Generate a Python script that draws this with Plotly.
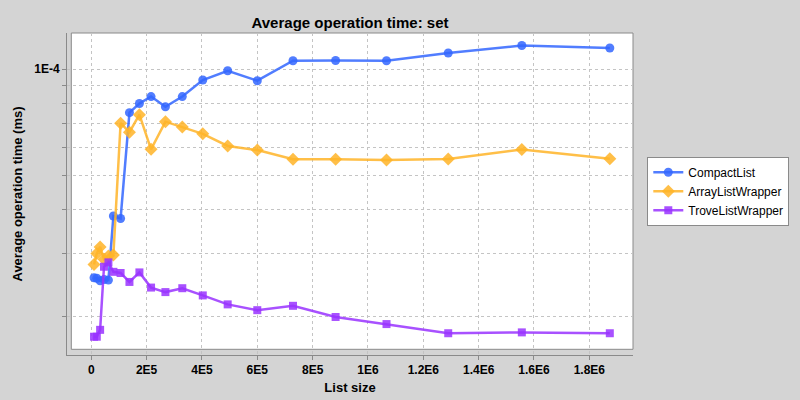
import plotly.graph_objects as go

# ---- data ----
list_size = [10000, 20000, 32000, 46000, 62000, 80000, 106000, 138000, 174000, 216000,
             268000, 329000, 403000, 493000, 600000, 729000, 883000, 1067000, 1290000,
             1556000, 1874000]

compact_list = [2.57e-5, 2.56e-5, 2.52e-5, 2.54e-5, 2.53e-5, 3.84e-5, 3.78e-5, 7.53e-5,
                7.99e-5, 8.36e-5, 7.82e-5, 8.36e-5, 9.31e-5, 9.89e-5, 9.27e-5, 1.056e-4,
                1.057e-4, 1.056e-4, 1.11e-4, 1.166e-4, 1.147e-4]

array_list_wrapper = [2.80e-5, 3.01e-5, 3.14e-5, 2.90e-5, 2.96e-5, 2.98e-5, 7.03e-5, 6.63e-5,
                      7.43e-5, 5.93e-5, 7.10e-5, 6.86e-5, 6.56e-5, 6.06e-5, 5.90e-5, 5.56e-5,
                      5.56e-5, 5.53e-5, 5.57e-5, 5.92e-5, 5.58e-5]

trove_list_wrapper = [1.75e-5, 1.75e-5, 1.83e-5, 2.76e-5, 2.84e-5, 2.67e-5, 2.65e-5, 2.50e-5,
                      2.66e-5, 2.41e-5, 2.34e-5, 2.40e-5, 2.29e-5, 2.16e-5, 2.08e-5, 2.14e-5,
                      1.99e-5, 1.90e-5, 1.79e-5, 1.80e-5, 1.79e-5]

x_tick_vals = [0, 200000, 400000, 600000, 800000, 1000000, 1200000, 1400000, 1600000, 1800000]
x_tick_text = ["0", "2E5", "4E5", "6E5", "8E5", "1E6", "1.2E6", "1.4E6", "1.6E6", "1.8E6"]

y_tick_vals = [2e-5, 3e-5, 4e-5, 5e-5, 6e-5, 7e-5, 8e-5, 9e-5, 1e-4]
y_tick_text = ["", "", "", "", "", "", "", "", "1E-4"]

FONT = "Liberation Sans"
BG = "#d4d4d4"
AX = "#8a8a8a"
GRID = "#c4c4c4"

fig = go.Figure()

fig.add_trace(go.Scatter(
    x=list_size, y=compact_list, name="CompactList", mode="lines+markers",
    line=dict(color="rgba(51,102,255,0.85)", width=2.5),
    marker=dict(symbol="circle", size=9, color="rgba(51,102,255,0.85)"),
))
fig.add_trace(go.Scatter(
    x=list_size, y=array_list_wrapper, name="ArrayListWrapper", mode="lines+markers",
    line=dict(color="rgba(255,180,40,0.85)", width=2.5),
    marker=dict(symbol="diamond", size=10, color="rgba(255,180,40,0.85)"),
))
fig.add_trace(go.Scatter(
    x=list_size, y=trove_list_wrapper, name="TroveListWrapper", mode="lines+markers",
    line=dict(color="rgba(153,51,255,0.85)", width=2.5),
    marker=dict(symbol="square", size=8, color="rgba(153,51,255,0.85)"),
))

ML, MR, MT, MB = 67, 167, 33, 45
W, H = 800, 400
pw = W - ML - MR
ph = H - MT - MB
# inner (white) plot rectangle, offset from axis lines
x0p = (71.3 - ML) / pw
y0p = ((H - MB) - 349.3) / ph

fig.add_shape(type="rect", xref="paper", yref="paper", x0=x0p, x1=1, y0=y0p, y1=1,
              fillcolor="white", line=dict(color=AX, width=1), layer="below")

fig.update_layout(
    width=W, height=H,
    margin=dict(l=ML, r=MR, t=MT, b=MB, autoexpand=False),
    paper_bgcolor=BG, plot_bgcolor=BG,
    font=dict(family=FONT, size=12, color="black"),
    title=dict(text="<b>Average operation time: set</b>", x=(ML + pw / 2) / W, xanchor="center",
               y=1 - 23 / H, yanchor="middle", font=dict(size=15, family=FONT)),
    showlegend=True,
    legend=dict(x=(647.3 - ML) / pw, y=(H - MB - 156.7) / ph, xanchor="left", yanchor="top",
                bgcolor="white", bordercolor=AX, borderwidth=1,
                font=dict(size=12, family=FONT), tracegroupgap=0,
                itemwidth=30),
)

fig.update_xaxes(
    range=[-87700, 1957800],
    tickvals=x_tick_vals, ticktext=x_tick_text,
    tickfont=dict(size=12, family=FONT, weight="bold"),
    showline=True, linecolor=AX, linewidth=1,
    ticks="outside", ticklen=4, tickcolor=AX,
    showgrid=True, gridcolor=GRID, griddash="3px,3px", gridwidth=1,
    zeroline=False, automargin=False,
    title=dict(text="<b>List size</b>", font=dict(size=13, family=FONT), standoff=6),
)
fig.update_yaxes(
    type="log",
    range=[-4.8087, -3.898],
    tickvals=y_tick_vals, ticktext=y_tick_text,
    tickfont=dict(size=12, family=FONT, weight="bold"),
    showline=True, linecolor=AX, linewidth=1,
    ticks="outside", ticklen=4, tickcolor=AX,
    showgrid=True, gridcolor=GRID, griddash="3px,3px", gridwidth=1,
    zeroline=False, automargin=False,
    title=dict(text="<b>Average operation time (ms)</b>", font=dict(size=13, family=FONT), standoff=8),
)

fig.write_html("out.html", post_script="document.body.style.margin='0';",
               config={"displayModeBar": False})
